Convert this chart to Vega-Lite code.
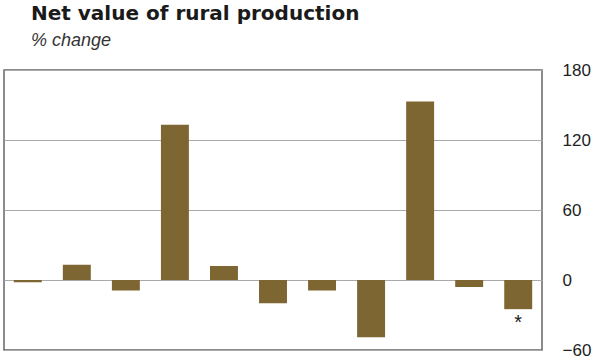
{
  "$schema": "https://vega.github.io/schema/vega-lite/v6.json",
  "autosize": "none",
  "width": 538,
  "height": 280,
  "padding": {"left": 4, "top": 70, "right": 58, "bottom": 12},
  "background": "white",
  "title": {
    "text": "Net value of rural production",
    "subtitle": "% change",
    "anchor": "start",
    "frame": "group",
    "dx": 27,
    "offset": 11,
    "font": "DejaVu Sans",
    "fontSize": 20,
    "fontWeight": "bold",
    "color": "#1a1a1a",
    "subtitleFont": "Liberation Sans",
    "subtitleFontSize": 18,
    "subtitleFontStyle": "italic",
    "subtitleColor": "#333",
    "subtitlePadding": 8
  },
  "config": {
    "view": {"stroke": "#666", "strokeWidth": 1.5},
    "font": "Liberation Sans"
  },
  "data": {
    "values": [
      {"year": "1985/86", "change": -2},
      {"year": "1986/87", "change": 13},
      {"year": "1987/88", "change": -9},
      {"year": "1988/89", "change": 133},
      {"year": "1989/90", "change": 12},
      {"year": "1990/91", "change": -20},
      {"year": "1991/92", "change": -9},
      {"year": "1992/93", "change": -49},
      {"year": "1993/94", "change": 153},
      {"year": "1994/95", "change": -6},
      {"year": "1995/96", "change": -25, "note": "*"}
    ]
  },
  "encoding": {
    "x": {
      "field": "year",
      "type": "ordinal",
      "sort": null,
      "axis": null,
      "scale": {"paddingInner": 0.43, "paddingOuter": 0.2}
    }
  },
  "layer": [
    {
      "mark": {"type": "bar", "color": "#7d6632"},
      "encoding": {
        "y": {
          "field": "change",
          "type": "quantitative",
          "scale": {"domain": [-60, 180], "nice": false},
          "axis": {
            "orient": "right",
            "values": [-60, 0, 60, 120, 180],
            "title": null,
            "grid": true,
            "gridColor": "#aaa",
            "gridWidth": 1,
            "ticks": false,
            "domain": false,
            "labelFontSize": 17,
            "labelColor": "#222",
            "labelPadding": 20,
            "labelAlign": "left"
          }
        }
      }
    },
    {
      "transform": [{"filter": "isValid(datum.note)"}],
      "mark": {"type": "text", "baseline": "top", "dy": 4, "fontSize": 20, "color": "#222"},
      "encoding": {
        "y": {"field": "change", "type": "quantitative"},
        "text": {"field": "note"}
      }
    }
  ]
}
